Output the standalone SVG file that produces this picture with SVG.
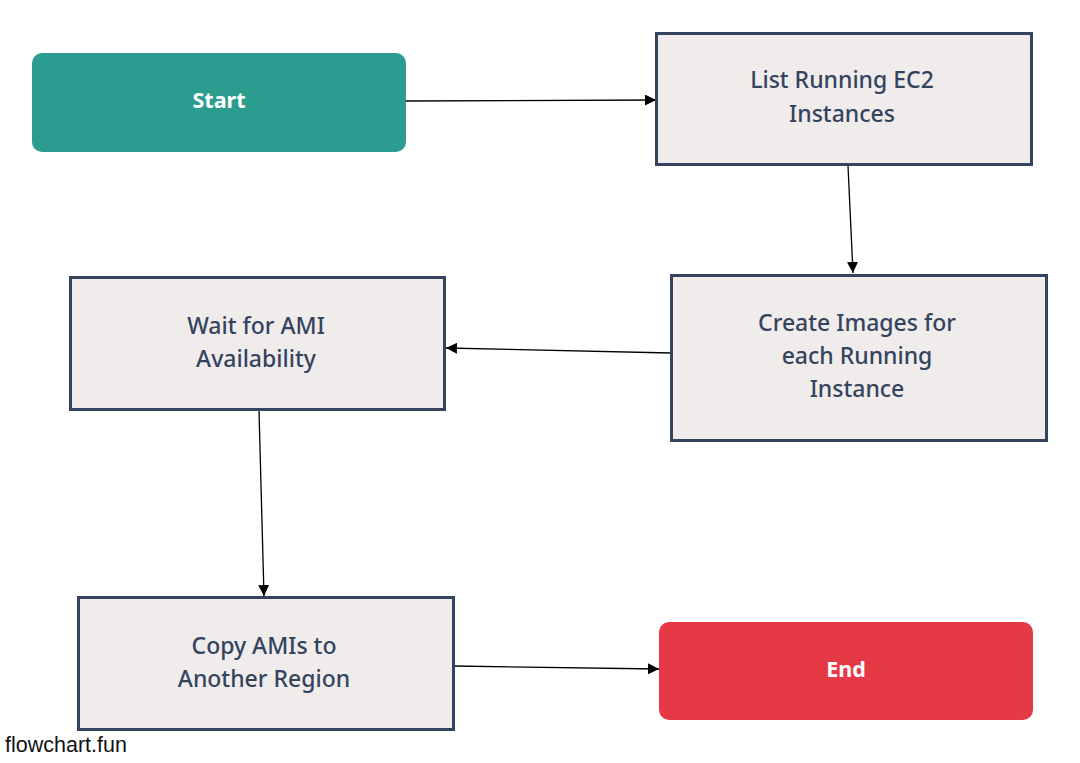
<svg xmlns="http://www.w3.org/2000/svg" width="1080" height="763" viewBox="0 0 1080 763">
<style>
.box{fill:#f0ecec;stroke:#34435e;stroke-width:3}
.t{font-family:"Noto Sans","Open Sans",sans-serif;font-size:23px;fill:#34435e;text-anchor:middle;font-weight:500}
.w{font-family:"Noto Sans","Open Sans",sans-serif;font-size:21.5px;fill:#ffffff;font-weight:bold;text-anchor:middle}
.e{stroke:#000;stroke-width:1.3;fill:none;marker-end:url(#ah)}
</style>
<defs>
<marker id="ah" viewBox="0 0 10 10" refX="10" refY="5" markerWidth="11" markerHeight="11" markerUnits="userSpaceOnUse" orient="auto"><path d="M0,0 L10,5 L0,10 z" fill="#000"/></marker>
</defs>
<rect width="1080" height="763" fill="#fff"/>
<g id="connectors">
<path class="e" d="M406,101 L656,100"/>
<path class="e" d="M848,166 L853,273"/>
<path class="e" d="M671,353 L446,348"/>
<path class="e" d="M259,411 L264,596"/>
<path class="e" d="M454,666 L659,669"/>
</g>
<g id="start"><rect x="32" y="53" width="374" height="99" rx="10" fill="#2a9d8f"/><text class="w" x="219" y="108">Start</text></g>
<g id="list"><rect class="box" x="656.5" y="33.5" width="375" height="131"/><text class="t" x="842" y="88">List Running EC2</text><text class="t" x="842" y="122">Instances</text></g>
<g id="create"><rect class="box" x="671.5" y="275.5" width="375" height="165"/><text class="t" x="857" y="331">Create Images for</text><text class="t" x="857" y="364">each Running</text><text class="t" x="857" y="397">Instance</text></g>
<g id="wait"><rect class="box" x="70.5" y="277.5" width="374" height="132"/><text class="t" x="256" y="334">Wait for AMI</text><text class="t" x="256" y="367">Availability</text></g>
<g id="copy"><rect class="box" x="78.5" y="597.5" width="375" height="132"/><text class="t" x="264" y="654">Copy AMIs to</text><text class="t" x="264" y="687">Another Region</text></g>
<g id="end"><rect x="659" y="622" width="374" height="98" rx="10" fill="#e63946"/><text class="w" x="846" y="677">End</text></g>
<text x="5" y="752" font-family="Liberation Sans,Arial,sans-serif" font-size="21.5" fill="#111">flowchart.fun</text>
</svg>
